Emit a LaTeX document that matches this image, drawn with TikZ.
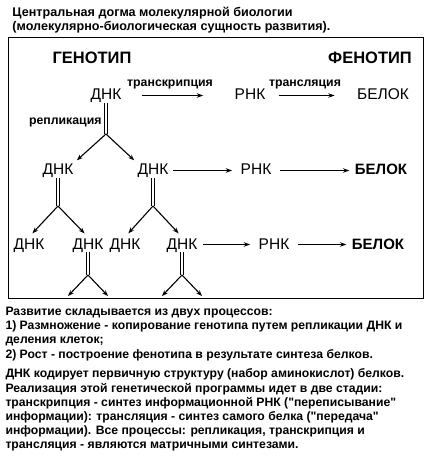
\documentclass[tikz,border=0pt]{standalone}
\usepackage{fontspec}
\setmainfont{Liberation Sans}
\usetikzlibrary{arrows.meta}

\tikzset{
  mol/.style={inner sep=0pt, anchor=base, text height=11.5pt, text depth=2.5pt,
    font=\fontsize{15.5}{16}\selectfont},
  molbf/.style={mol, font=\bfseries\fontsize{15}{16}\selectfont},
  phase/.style={inner sep=0pt, anchor=base, font=\bfseries\fontsize{16.5}{18}\selectfont},
  proc/.style={inner sep=0pt, anchor=base, font=\bfseries\fontsize{12.3}{14}\selectfont},
  head/.style={inner sep=0pt, anchor=base west, font=\bfseries\fontsize{12.6}{14}\selectfont},
  txt/.style={inner sep=0pt, anchor=base west, font=\bfseries\fontsize{12.2}{14}\selectfont},
  arr/.style={-{Stealth[length=6.5pt,width=4.5pt]}, line width=1.6pt},
  fork/.style={-{Stealth[length=6pt,width=4.5pt]}, line width=1.1pt},
  dbl/.style={double, double distance=2.2pt, line width=0.8pt}
}
\newcommand{\qt}{\textquotedbl}

\begin{document}
\begin{tikzpicture}[x=1pt, y=-1pt, line width=1pt]
  \useasboundingbox (0,0) rectangle (432,470);

  % ---------- title ----------
  \node[head] (ttl1) at (12,17) {Центральная догма молекулярной биологии};
  \node[head] (ttl2) at (12,31) {(молекулярно-биологическая сущность развития).};

  % ---------- frame ----------
  \draw (8,38) rectangle (423,298);
  \node[phase] (geno) at (92,64) {ГЕНОТИП};
  \node[phase] (feno) at (370,64) {ФЕНОТИП};

  % ---------- row 1 ----------
  \node[mol] (dna0) at (106,100) {ДНК};
  \node[mol] (rna0) at (250,100) {РНК};
  \node[mol] (prot0) at (383,100) {БЕЛОК};
  \node[proc] (trc) at (170,87) {транскрипция};
  \node[proc] (trl) at (305,87) {трансляция};
  \draw[arr, shorten <=20pt, shorten >=31pt] (dna0) -- (rna0);
  \draw[arr, shorten <=13pt, shorten >=22pt] (rna0) -- (prot0);

  % replication fork 1
  \coordinate (f0) at (106,134);
  \draw[dbl] (dna0.south) -- (f0);
  \node[proc, anchor=base east] (repl) at (102,125) {репликация};

  % ---------- row 2 ----------
  \node[mol] (dna1) at (58,175) {ДНК};
  \node[mol] (dna2) at (153,175) {ДНК};
  \node[mol] (rna1) at (256,175) {РНК};
  \node[molbf] (prot1) at (381,175) {БЕЛОК};
  \draw[fork, shorten >=4pt] (f0) -- (dna1.north east);
  \draw[fork, shorten >=4pt] (f0) -- (dna2.north west);
  \draw[arr, shorten <=4pt, shorten >=8pt] (dna2) -- (rna1);
  \draw[arr, shorten <=8pt, shorten >=5pt] (rna1) -- (prot1);

  \coordinate (f1) at (58,206);
  \coordinate (f2) at (153,206);
  \draw[dbl] (dna1.south) -- (f1);
  \draw[dbl] (dna2.south) -- (f2);

  % ---------- row 3 ----------
  \node[mol] (dna3) at (29,249) {ДНК};
  \node[mol] (dna4) at (88,249) {ДНК};
  \node[mol] (dna5) at (125,249) {ДНК};
  \node[mol] (dna6) at (182,249) {ДНК};
  \node[mol] (rna2) at (274,249) {РНК};
  \node[molbf] (prot2) at (378,249) {БЕЛОК};
  \draw[fork, shorten >=5pt] (f1) -- (dna3.north);
  \draw[fork, shorten >=5pt] (f1) -- (dna4.north);
  \draw[fork, shorten >=5pt] (f2) -- (dna5.north);
  \draw[fork, shorten >=5pt] (f2) -- (dna6.north);
  \draw[arr, shorten <=5pt, shorten >=8pt] (dna6) -- (rna2);
  \draw[arr, shorten <=8pt, shorten >=5pt] (rna2) -- (prot2);

  \coordinate (g1) at (88,275);
  \coordinate (g2) at (182,275);
  \coordinate (g1l) at (68,296);
  \coordinate (g1r) at (108,296);
  \coordinate (g2l) at (162,296);
  \coordinate (g2r) at (202,296);
  \draw[dbl] (dna4.south) -- (g1);
  \draw[dbl] (dna6.south) -- (g2);
  \draw[fork] (g1) -- (g1l);
  \draw[fork] (g1) -- (g1r);
  \draw[fork] (g2) -- (g2l);
  \draw[fork] (g2) -- (g2r);

  % ---------- notes below ----------
  \node[txt] (ln1) at (5,315) {Развитие складывается из двух процессов:};
  \node[txt] (ln2) at (5,329) {1) Размножение - копирование генотипа путем репликации ДНК и};
  \node[txt] (ln3) at (5,343) {деления клеток;};
  \node[txt] (ln4) at (5,358) {2) Рост - построение фенотипа в результате синтеза белков.};
  \node[txt] (ln5) at (5,377) {ДНК кодирует первичную структуру (набор аминокислот) белков.};
  \node[txt] (ln6) at (5,392) {Реализация этой генетической программы идет в две стадии:};
  \node[txt] (ln7) at (5,406) {транскрипция - синтез информационной РНК (\qt переписывание\qt};
  \node[txt] (ln8) at (5,420) {информации): трансляция - синтез самого белка (\qt передача\qt};
  \node[txt] (ln9) at (5,434) {информации). Все процессы: репликация, транскрипция и};
  \node[txt] (ln10) at (5,448) {трансляция - являются матричными синтезами.};
\end{tikzpicture}
\end{document}
